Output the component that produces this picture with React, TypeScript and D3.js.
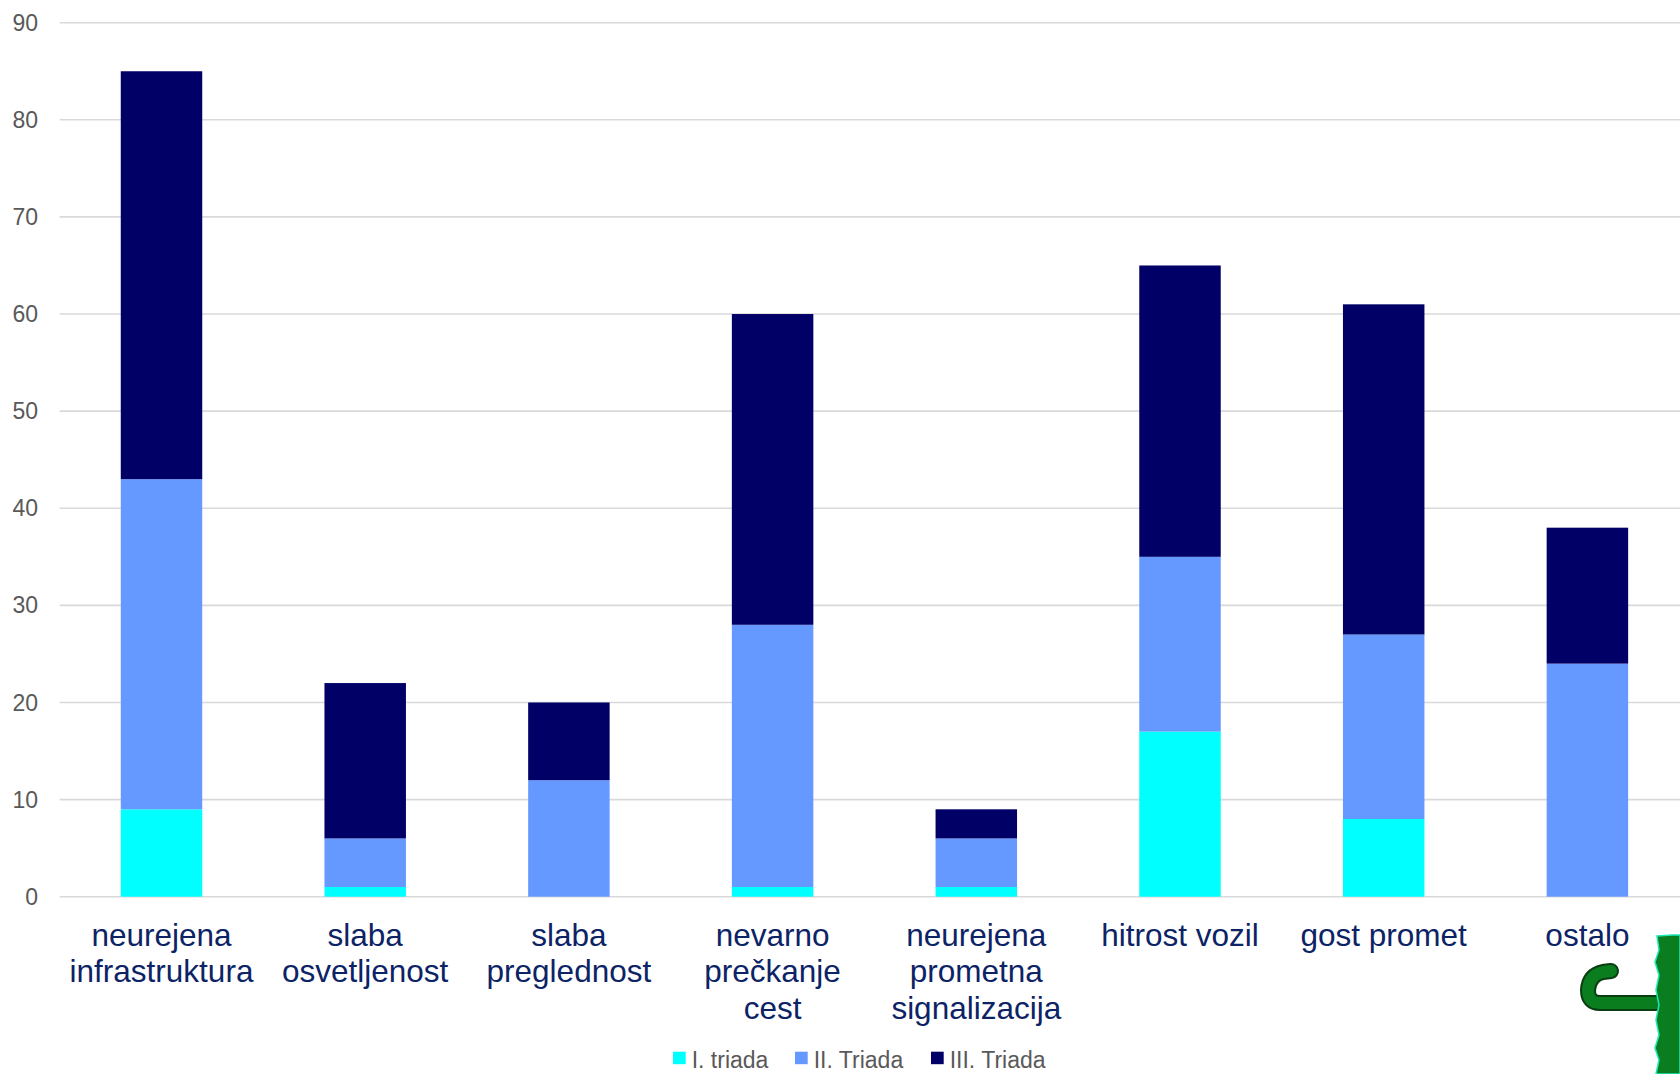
import React from "react";
import * as d3 from "d3";

const categories: string[][] = [
  ["neurejena", "infrastruktura"],
  ["slaba", "osvetljenost"],
  ["slaba", "preglednost"],
  ["nevarno", "prečkanje", "cest"],
  ["neurejena", "prometna", "signalizacija"],
  ["hitrost vozil"],
  ["gost promet"],
  ["ostalo"],
];
const seriesNames = ["I. triada", "II. Triada", "III. Triada"];
const triadaI = [9, 1, 0, 1, 1, 17, 8, 0];
const triadaII = [34, 5, 12, 27, 5, 18, 19, 24];
const triadaIII = [42, 16, 8, 32, 3, 30, 34, 14];
const yTicks = [0, 10, 20, 30, 40, 50, 60, 70, 80, 90];
const colors = ["#00FFFF", "#6699FF", "#000066"];

const W = 1680;
const H = 1074;
const FONT = "'Liberation Sans', Arial, sans-serif";

export default function App() {
  const keys = categories.map((c) => c.join(" "));
  const rows = keys.map((k, i) => ({
    key: k,
    s0: triadaI[i],
    s1: triadaII[i],
    s2: triadaIII[i],
  }));
  const stack = d3.stack<any>().keys(["s0", "s1", "s2"]);
  const stacked = stack(rows);

  const x = d3
    .scaleBand<string>()
    .domain(keys)
    .range([59.65, 59.65 + 8 * 203.7])
    .paddingInner(0.6)
    .paddingOuter(0.3);
  const y = d3.scaleLinear().domain([0, 90]).range([896.7, 22.7]);

  const legendX = [673, 795, 931];

  return (
    <svg
      width={W}
      height={H}
      style={{ position: "absolute", left: 0, top: 0, background: "#fff" }}
      fontFamily={FONT}
    >
      <rect x={0} y={0} width={W} height={H} fill="#fff" />
      {yTicks.map((t) => (
        <g key={t}>
          <line
            x1={59.65}
            x2={W}
            y1={y(t)}
            y2={y(t)}
            stroke="#d9d9d9"
            strokeWidth={1.6}
          />
          <text
            x={38}
            y={y(t)}
            dy="0.35em"
            textAnchor="end"
            fontSize={23}
            fill="#595959"
          >
            {t}
          </text>
        </g>
      ))}
      {stacked.map((layer, si) => (
        <g key={si} fill={colors[si]}>
          {layer.map((d, i) => {
            const h = y(d[0]) - y(d[1]);
            if (h <= 0) return null;
            return (
              <rect
                key={i}
                x={x(keys[i])!}
                y={y(d[1])}
                width={x.bandwidth()}
                height={h}
              />
            );
          })}
        </g>
      ))}
      {categories.map((lines, i) => {
        const cx = x(keys[i])! + x.bandwidth() / 2;
        return (
          <text
            key={i}
            x={cx}
            y={945.5}
            textAnchor="middle"
            fontSize={31.5}
            fill="#0c2366"
          >
            {lines.map((l, j) => (
              <tspan key={j} x={cx} dy={j === 0 ? 0 : 36.5}>
                {l}
              </tspan>
            ))}
          </text>
        );
      })}
      {seriesNames.map((n, i) => (
        <g key={n}>
          <rect
            x={legendX[i]}
            y={1051.7}
            width={12.7}
            height={12.5}
            fill={colors[i]}
          />
          <text x={legendX[i] + 18.7} y={1067.5} fontSize={23} fill="#595959">
            {n}
          </text>
        </g>
      ))}
      {/* decorative green logo, bottom right */}
      <g>
        <path
          d="M1656 1003 L1600 1003 Q1588 1003 1588 990 Q1589 975 1603 972 L1611 971"
          fill="none"
          stroke="#0b3d12"
          strokeWidth={16}
          strokeLinecap="round"
        />
        <path
          d="M1656 1003 L1600 1003 Q1588 1003 1588 990 Q1589 975 1603 972 L1611 971"
          fill="none"
          stroke="#0a7d1f"
          strokeWidth={12}
          strokeLinecap="round"
        />
        <path
          d="M1657 936 L1672 935 L1680 935 L1680 1074 L1656 1074 L1659 1060 L1655 1048 L1659 1035 L1656 1020 L1659 1005 L1656 990 L1659 975 L1655 962 L1659 950 Z"
          fill="#0a7d1f"
          stroke="#1de9b6"
          strokeWidth={1.5}
        />
      </g>
    </svg>
  );
}
